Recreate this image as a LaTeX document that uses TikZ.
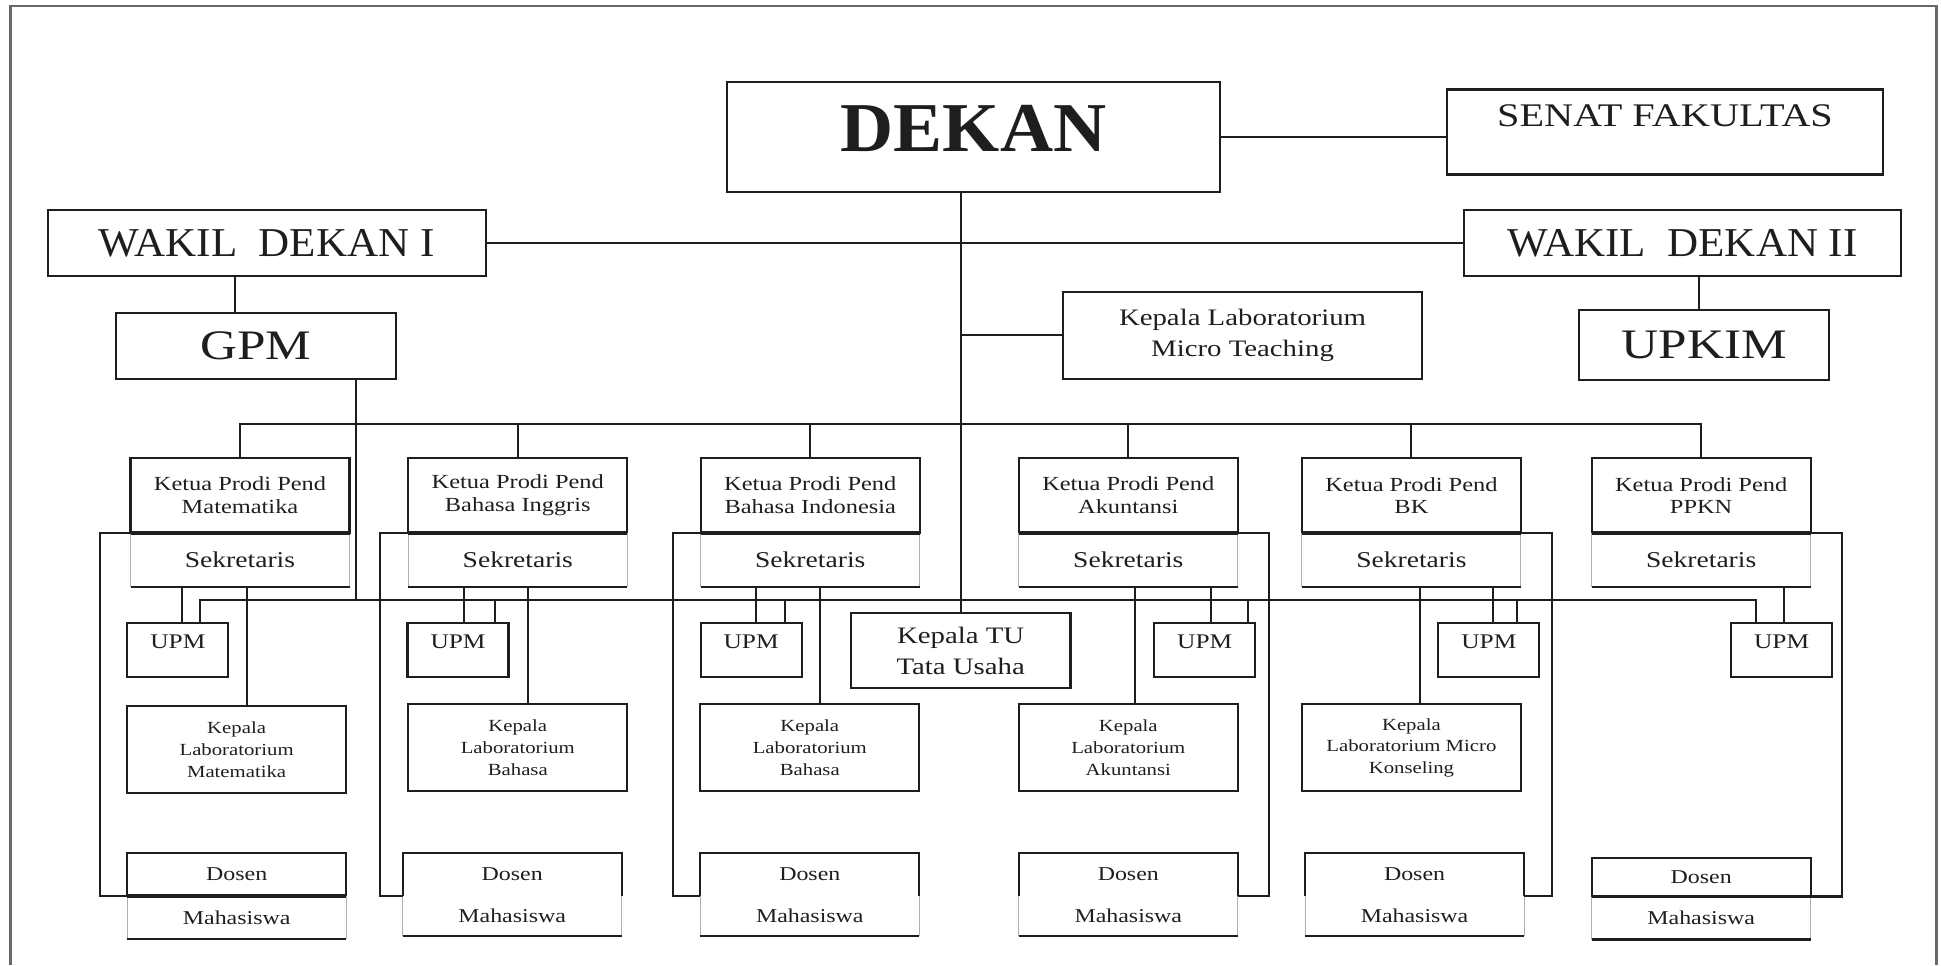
\documentclass[tikz,border=0pt]{standalone}
\usepackage{fontspec}
\setmainfont{Liberation Serif}[FakeStretch=1.22]
\newfontfamily\dekanfont{Liberation Serif}[FakeStretch=1.05]
\usepackage{tikz}
\usepackage{xcolor}
\usetikzlibrary{positioning}
\definecolor{ink}{RGB}{30,30,30}
\definecolor{faint}{RGB}{175,175,175}
\definecolor{frameclr}{RGB}{105,105,105}

\begin{document}
\begin{tikzpicture}[x=0.5pt,y=0.5pt,yscale=-1,xscale=1,
  link/.style={draw=ink, line width=1.05pt},
  faintline/.style={draw=faint, line width=0.5pt},
  divider/.style={draw=ink, line width=1.9pt},
  orgbox/.style={draw=ink, line width=1.05pt, inner sep=0pt, outer sep=0pt, align=center, text=ink},
  plainbox/.style={inner sep=0pt, outer sep=0pt, align=center, text=ink},
  wakilbox/.style={orgbox, minimum width=219pt, minimum height=33pt, font=\dekanfont\fontsize{20.5pt}{24pt}\selectfont},
  ketuabox/.style={orgbox, minimum width=109.5pt, minimum height=37.3pt, font=\fontsize{10pt}{11.2pt}\selectfont},
  sekbox/.style={plainbox, minimum width=109.5pt, minimum height=27.4pt, font=\fontsize{11.3pt}{13pt}\selectfont},
  upmbox/.style={orgbox, minimum width=50.5pt, text height=12.8pt, text depth=14.2pt, font=\fontsize{10.4pt}{12pt}\selectfont},
  labbox/.style={orgbox, minimum width=109.5pt, minimum height=43.5pt, font=\fontsize{8.5pt}{10.85pt}\selectfont},
  dosbox/.style={plainbox, minimum width=109.5pt, minimum height=21.5pt, font=\fontsize{9.8pt}{11pt}\selectfont},
  dosshut/.style={dosbox, draw=ink, line width=1.05pt},
  mhsbox/.style={plainbox, minimum width=109.5pt, minimum height=20pt, font=\fontsize{9.8pt}{11pt}\selectfont}
]
\useasboundingbox (0,0) rectangle (1941,965);

%Frame
\draw [draw=frameclr, line width=1.3pt] (10.5,965) -- (10.5,6) -- (1936.5,6) -- (1936.5,965) ;

% Text Node
\node [orgbox, minimum width=246.5pt, text height=34.85pt, text depth=20.15pt, font=\dekanfont\bfseries\fontsize{35pt}{40pt}\selectfont] (dekan) at (973.5,137) {DEKAN};
% Text Node
\node [orgbox, minimum width=218.25pt, text height=18.6pt, text depth=23.9pt, font=\fontsize{16.5pt}{19pt}\selectfont] (senat) at (1665,132) {SENAT FAKULTAS};
% Text Node
\node [wakilbox] (wakil1) at (266.6,243) {WAKIL\ \ DEKAN I};
% Text Node
\node [wakilbox, minimum width=218.5pt] (wakil2) at (1682.5,243) {WAKIL\ \ DEKAN II};
% Text Node
\node [orgbox, minimum width=140pt, minimum height=33pt, font=\fontsize{21pt}{24pt}\selectfont] (gpm) at (256,346) {GPM};
% Text Node
\node [orgbox, minimum width=125pt, minimum height=35pt, font=\fontsize{21pt}{24pt}\selectfont] (upkim) at (1704.3,345) {UPKIM};
% Text Node
\node [orgbox, minimum width=179.5pt, minimum height=43.35pt, font=\fontsize{11.8pt}{15.8pt}\selectfont] (microlab) at (1242.5,335.4) {Kepala Laboratorium\\Micro Teaching};
% Text Node
\node [orgbox, minimum width=109.8pt, minimum height=37.5pt, font=\fontsize{11.8pt}{15.35pt}\selectfont] (kepalatu) at (960.7,650.8) {Kepala TU\\Tata Usaha};

% Prodi Pend Matematika
\node [ketuabox] (ketua1) at (240,495.3) {Ketua Prodi Pend\\Matematika};
\node [sekbox, below=0pt of ketua1] (sek1) {Sekretaris};
\node [upmbox] (upm1) at (177.9,649.75) {UPM};
\node [labbox] (lab1) at (236.6,749.5) {Kepala\\Laboratorium\\Matematika};
\node [dosshut] (dosen1) at (236.7,874.5) {Dosen};
\node [mhsbox, minimum height=21.5pt, below=0pt of dosen1] (mhs1) {Mahasiswa};

% Prodi Pend Bahasa Inggris
\node [ketuabox] (ketua2) at (517.8,495.3) {Ketua Prodi Pend\\Bahasa Inggris};
\node [sekbox, below=0pt of ketua2] (sek2) {Sekretaris};
\node [upmbox] (upm2) at (458,649.75) {UPM};
\node [labbox] (lab2) at (517.8,747.75) {Kepala\\Laboratorium\\Bahasa};
\node [dosbox] (dosen2) at (512.2,874.5) {Dosen};
\node [mhsbox, below=0pt of dosen2] (mhs2) {Mahasiswa};

% Prodi Pend Bahasa Indonesia
\node [ketuabox] (ketua3) at (810.25,495.3) {Ketua Prodi Pend\\Bahasa Indonesia};
\node [sekbox, below=0pt of ketua3] (sek3) {Sekretaris};
\node [upmbox] (upm3) at (751.1,649.75) {UPM};
\node [labbox] (lab3) at (809.8,747.75) {Kepala\\Laboratorium\\Bahasa};
\node [dosbox] (dosen3) at (809.8,874.5) {Dosen};
\node [mhsbox, below=0pt of dosen3] (mhs3) {Mahasiswa};

% Prodi Pend Akuntansi
\node [ketuabox] (ketua4) at (1128.3,495.3) {Ketua Prodi Pend\\Akuntansi};
\node [sekbox, below=0pt of ketua4] (sek4) {Sekretaris};
\node [upmbox] (upm4) at (1204.7,649.75) {UPM};
\node [labbox] (lab4) at (1128.3,747.75) {Kepala\\Laboratorium\\Akuntansi};
\node [dosbox] (dosen4) at (1128.3,874.5) {Dosen};
\node [mhsbox, below=0pt of dosen4] (mhs4) {Mahasiswa};

% Prodi Pend BK
\node [ketuabox] (ketua5) at (1411.4,495.3) {Ketua Prodi Pend\\BK};
\node [sekbox, below=0pt of ketua5] (sek5) {Sekretaris};
\node [upmbox] (upm5) at (1488.8,649.75) {UPM};
\node [labbox] (lab5) at (1411.4,747.75) {Kepala\\Laboratorium Micro\\Konseling};
\node [dosbox] (dosen5) at (1414.55,874.5) {Dosen};
\node [mhsbox, below=0pt of dosen5] (mhs5) {Mahasiswa};

% Prodi Pend PPKN
\node [ketuabox] (ketua6) at (1701.15,495.3) {Ketua Prodi Pend\\PPKN};
\node [sekbox, below=0pt of ketua6] (sek6) {Sekretaris};
\node [upmbox] (upm6) at (1781.6,649.75) {UPM};
\node [dosshut, minimum height=19.4pt] (dosen6) at (1701.15,877.1) {Dosen};
\node [mhsbox, minimum height=21.5pt, below=0pt of dosen6] (mhs6) {Mahasiswa};

%Bus coordinates
\coordinate (pbus) at (0,424);
\coordinate (ubus) at (0,600);

%Straight Lines
\draw [link] (kepalatu.north) -- (kepalatu.north |- dekan.south) ;
\draw [link] (dekan.east) -- (dekan.east -| senat.west) ;
\draw [link] (wakil1.east) -- (wakil2.west) ;
\draw [link] ([xshift=-10.5pt]gpm.north) -- ([xshift=-10.5pt]gpm.north |- wakil1.south) ;
\draw [link] ([xshift=-2.5pt]upkim.north) -- ([xshift=-2.5pt]upkim.north |- wakil2.south) ;
\draw [link] (microlab.west) -- (microlab.west -| kepalatu.north) ;
\draw [link] ([xshift=50pt]gpm.south) -- ([xshift=50pt]gpm.south |- ubus) ;

%Straight Lines: ketua prodi
\draw [link] (ketua1.north) |- (pbus -| ketua6.north) -- (ketua6.north) ;
\draw [link] (ketua2.north) -- (ketua2.north |- pbus) ;
\draw [link] (ketua3.north) -- (ketua3.north |- pbus) ;
\draw [link] (ketua4.north) -- (ketua4.north |- pbus) ;
\draw [link] (ketua5.north) -- (ketua5.north |- pbus) ;

%Straight Lines: UPM bus
\draw [link] ([xshift=10.85pt]upm1.north) |- ([xshift=-12.95pt]upm6.north |- ubus) -- ([xshift=-12.95pt]upm6.north) ;
\draw [link] ([xshift=18.3pt]upm2.north) -- ([xshift=18.3pt]upm2.north |- ubus) ;
\draw [link] ([xshift=17.1pt]upm3.north) -- ([xshift=17.1pt]upm3.north |- ubus) ;
\draw [link] ([xshift=21.75pt]upm4.north) -- ([xshift=21.75pt]upm4.north |- ubus) ;
\draw [link] ([xshift=14.1pt]upm5.north) -- ([xshift=14.1pt]upm5.north |- ubus) ;

%Sekretaris boxes
\draw [faintline] (sek1.north west) -- (sek1.south west) (sek1.north east) -- (sek1.south east) ;
\draw [faintline] (sek2.north west) -- (sek2.south west) (sek2.north east) -- (sek2.south east) ;
\draw [faintline] (sek3.north west) -- (sek3.south west) (sek3.north east) -- (sek3.south east) ;
\draw [faintline] (sek4.north west) -- (sek4.south west) (sek4.north east) -- (sek4.south east) ;
\draw [faintline] (sek5.north west) -- (sek5.south west) (sek5.north east) -- (sek5.south east) ;
\draw [faintline] (sek6.north west) -- (sek6.south west) (sek6.north east) -- (sek6.south east) ;
\draw [link] (sek1.south west) -- (sek1.south east) ;
\draw [link] (sek2.south west) -- (sek2.south east) ;
\draw [link] (sek3.south west) -- (sek3.south east) ;
\draw [link] (sek4.south west) -- (sek4.south east) ;
\draw [link] (sek5.south west) -- (sek5.south east) ;
\draw [link] (sek6.south west) -- (sek6.south east) ;
\draw [divider] (ketua1.south west) -- (ketua1.south east) ;
\draw [divider] (ketua2.south west) -- (ketua2.south east) ;
\draw [divider] (ketua3.south west) -- (ketua3.south east) ;
\draw [divider] (ketua4.south west) -- (ketua4.south east) ;
\draw [divider] (ketua5.south west) -- (ketua5.south east) ;
\draw [divider] (ketua6.south west) -- (ketua6.south east) ;

%Straight Lines: sekretaris to UPM
\draw [link] ([xshift=2pt]upm1.north) -- ([xshift=2pt]upm1.north |- sek1.south) ;
\draw [link] ([xshift=3.15pt]upm2.north) -- ([xshift=3.15pt]upm2.north |- sek2.south) ;
\draw [link] ([xshift=2.35pt]upm3.north) -- ([xshift=2.35pt]upm3.north |- sek3.south) ;
\draw [link] ([xshift=3.25pt]upm4.north) -- ([xshift=3.25pt]upm4.north |- sek4.south) ;
\draw [link] ([xshift=2.3pt]upm5.north) -- ([xshift=2.3pt]upm5.north |- sek5.south) ;
\draw [link] ([xshift=1.2pt]upm6.north) -- ([xshift=1.2pt]upm6.north |- sek6.south) ;

%Straight Lines: sekretaris to laboratorium
\draw [link] ([xshift=5.2pt]lab1.north) -- ([xshift=5.2pt]lab1.north |- sek1.south) ;
\draw [link] ([xshift=4.95pt]lab2.north) -- ([xshift=4.95pt]lab2.north |- sek2.south) ;
\draw [link] ([xshift=5.1pt]lab3.north) -- ([xshift=5.1pt]lab3.north |- sek3.south) ;
\draw [link] ([xshift=3.5pt]lab4.north) -- ([xshift=3.5pt]lab4.north |- sek4.south) ;
\draw [link] ([xshift=4.25pt]lab5.north) -- ([xshift=4.25pt]lab5.north |- sek5.south) ;

%Dosen and Mahasiswa boxes
\draw [link] (dosen2.south west) |- (dosen2.north) -| (dosen2.south east) ;
\draw [link] (dosen3.south west) |- (dosen3.north) -| (dosen3.south east) ;
\draw [link] (dosen4.south west) |- (dosen4.north) -| (dosen4.south east) ;
\draw [link] (dosen5.south west) |- (dosen5.north) -| (dosen5.south east) ;
\draw [faintline] (mhs1.north west) -- (mhs1.south west) (mhs1.north east) -- (mhs1.south east) ;
\draw [faintline] (mhs2.north west) -- (mhs2.south west) (mhs2.north east) -- (mhs2.south east) ;
\draw [faintline] (mhs3.north west) -- (mhs3.south west) (mhs3.north east) -- (mhs3.south east) ;
\draw [faintline] (mhs4.north west) -- (mhs4.south west) (mhs4.north east) -- (mhs4.south east) ;
\draw [faintline] (mhs5.north west) -- (mhs5.south west) (mhs5.north east) -- (mhs5.south east) ;
\draw [faintline] (mhs6.north west) -- (mhs6.south west) (mhs6.north east) -- (mhs6.south east) ;
\draw [link] (mhs1.south west) -- (mhs1.south east) ;
\draw [link] (mhs2.south west) -- (mhs2.south east) ;
\draw [link] (mhs3.south west) -- (mhs3.south east) ;
\draw [link] (mhs4.south west) -- (mhs4.south east) ;
\draw [link] (mhs5.south west) -- (mhs5.south east) ;
\draw [link] (mhs6.south west) -- (mhs6.south east) ;
\draw [divider] (dosen1.south west) -- (dosen1.south east) ;
\draw [divider] (dosen6.south west) -- (dosen6.south east) ;

%Straight Lines: ketua to dosen
\draw [link] (ketua1.south west) -- ++(-30.5,0) |- (dosen1.south west) ;
\draw [link] (ketua2.south west) -- ++(-28.4,0) |- (dosen2.south west) ;
\draw [link] (ketua3.south west) -- ++(-28,0) |- (dosen3.south west) ;
\draw [link] (ketua4.south east) -- ++(31.3,0) |- (dosen4.south east) ;
\draw [link] (ketua5.south east) -- ++(31.2,0) |- (dosen5.south east) ;
\draw [link] (ketua6.south east) -- ++(31.2,0) |- (dosen6.south east) ;

\end{tikzpicture}
\end{document}
